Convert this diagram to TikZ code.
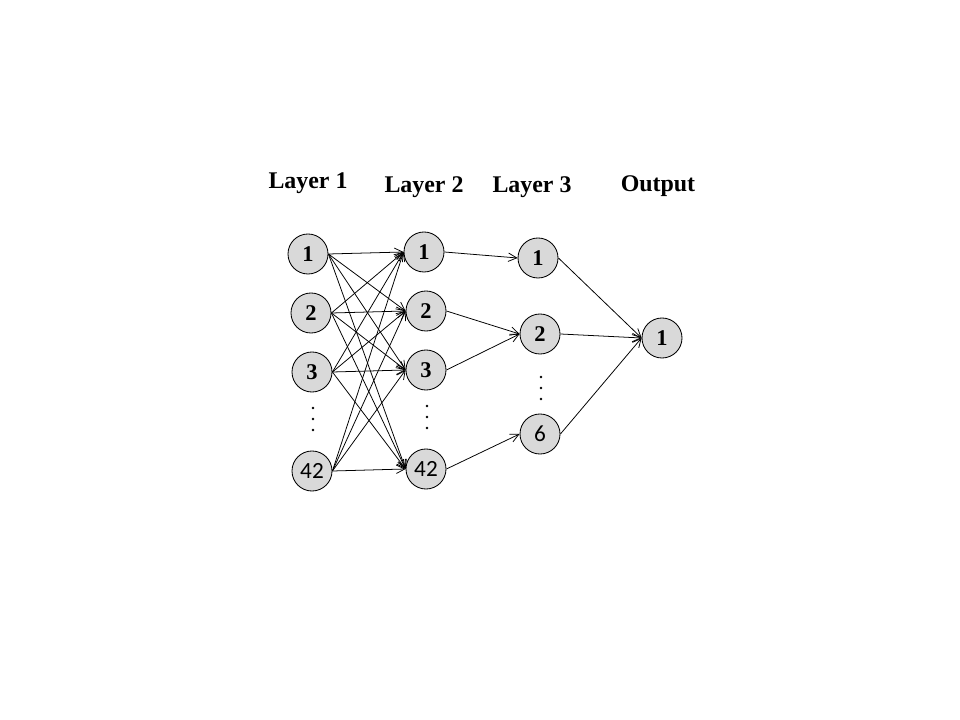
\documentclass[tikz,border=0pt]{standalone}
\usepackage{fontspec}
\setmainfont{Liberation Serif}
\newfontfamily\numfont{Carlito}
\usetikzlibrary{arrows.meta}
\tikzset{
  unit/.style={circle, draw, fill=black!15, minimum size=1cm, inner sep=0pt, line width=0.6pt, font=\fontsize{16}{16}\selectfont\bfseries},
  wide/.style={font=\fontsize{16.5}{16}\selectfont\numfont},
  head/.style={font=\fontsize{17}{17}\selectfont\bfseries},
  wire/.style={-{Straight Barb[length=6pt,width=6pt]}, line width=0.55pt}}

\begin{document}
\begin{tikzpicture}[x=0.025cm, y=-0.025cm]
  \useasboundingbox (0,0) rectangle (960,720);
    % layer headings
    \node[head] (h1) at (308,183) {Layer 1};
    \node[head] (h2) at (424,187) {Layer 2};
        \node[head] (h3) at (532,187) {Layer 3};
            \node[head] (ho) at (658,186) {Output};
    % layer 1
    \node[unit] (a1) at (308,254) {1};
    \node[unit] (a2) at (311,313) {2};
    \node[unit] (a3) at (312,372) {3};
    \node[unit, wide] (a42) at (312,471) {42};
    % layer 2
        \node[unit] (b1) at (424,252) {1};
        \node[unit] (b2) at (426,311) {2};
        \node[unit] (b3) at (426,370) {3};
        \node[unit, wide] (b42) at (426,469) {42};
    % layer 3
           \node[unit] (c1) at (538,258) {1};
           \node[unit] (c2) at (540,334) {2};
           \node[unit, wide] (c6) at (540,434) {6};
    % output
              \node[unit] (o1) at (662,338) {1};
    % dots
    \fill (313,408) circle (1.3); \fill (313,419) circle (1.3); \fill (313,430) circle (1.3);
    \fill (427,406) circle (1.3); \fill (427,417) circle (1.3); \fill (427,428) circle (1.3);
    \fill (541,377) circle (1.3); \fill (541,388) circle (1.3); \fill (541,399) circle (1.3);
    % layer 1 to layer 2
     \draw [wire] (a1.east) -- (b1.west);
     \draw [wire] (a1.east) -- (b2.west);
     \draw [wire] (a1.east) -- (b3.west);
     \draw [wire] (a1.east) -- (b42.west);
     \draw [wire] (a2.east) -- (b1.west);
     \draw [wire] (a2.east) -- (b2.west);
     \draw [wire] (a2.east) -- (b3.west);
     \draw [wire] (a2.east) -- (b42.west);
     \draw [wire] (a3.east) -- (b1.west);
     \draw [wire] (a3.east) -- (b2.west);
     \draw [wire] (a3.east) -- (b3.west);
     \draw [wire] (a3.east) -- (b42.west);
     \draw [wire] (a42.east) -- (b1.west);
     \draw [wire] (a42.east) -- (b2.west);
     \draw [wire] (a42.east) -- (b3.west);
     \draw [wire] (a42.east) -- (b42.west);
    % layer 2 to layer 3
          \draw [wire] (b1.east) -- (c1.west);
          \draw [wire] (b2.east) -- (c2.west);
          \draw [wire] (b3.east) -- (c2.west);
          \draw [wire] (b42.east) -- (c6.west);
    % layer 3 to output
               \draw [wire] (c1.east) -- (o1.west);
               \draw [wire] (c2.east) -- (o1.west);
               \draw [wire] (c6.east) -- (o1.west);
\end{tikzpicture}
\end{document}
